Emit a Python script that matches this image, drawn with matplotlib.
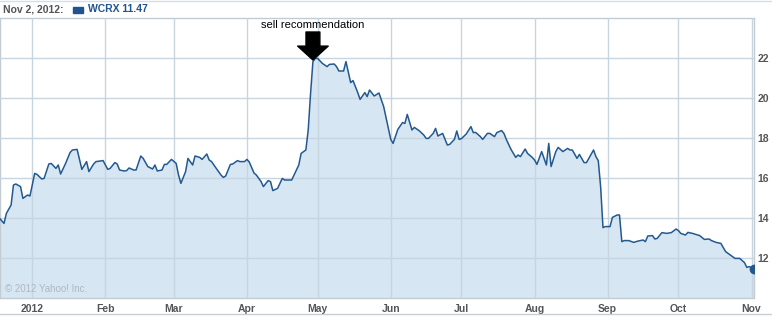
import matplotlib
matplotlib.use("Agg")
import matplotlib.pyplot as plt
from matplotlib.patches import Rectangle
from matplotlib.lines import Line2D
import pandas as pd

# ------------------------------------------------------------------
# Data
# ------------------------------------------------------------------
dates = [
    "2011-12-18", "2011-12-20", "2011-12-21", "2011-12-23", "2011-12-24",
    "2011-12-25", "2011-12-27", "2011-12-28", "2011-12-30", "2011-12-31",
    "2012-01-02", "2012-01-03", "2012-01-05", "2012-01-06", "2012-01-08",
    "2012-01-09", "2012-01-11", "2012-01-12", "2012-01-13", "2012-01-15",
    "2012-01-17", "2012-01-18", "2012-01-20", "2012-01-22", "2012-01-24",
    "2012-01-25", "2012-01-27", "2012-01-28", "2012-01-31", "2012-02-02",
    "2012-02-03", "2012-02-05", "2012-02-06", "2012-02-07", "2012-02-09",
    "2012-02-10", "2012-02-11", "2012-02-13", "2012-02-14", "2012-02-16",
    "2012-02-17", "2012-02-19", "2012-02-21", "2012-02-22", "2012-02-23",
    "2012-02-25", "2012-02-26", "2012-02-27", "2012-02-29", "2012-03-02",
    "2012-03-03", "2012-03-04", "2012-03-06", "2012-03-07", "2012-03-09",
    "2012-03-10", "2012-03-12", "2012-03-13", "2012-03-15", "2012-03-16",
    "2012-03-17", "2012-03-19", "2012-03-21", "2012-03-22", "2012-03-23",
    "2012-03-25", "2012-03-26", "2012-03-28", "2012-03-29", "2012-03-31",
    "2012-04-01", "2012-04-02", "2012-04-04", "2012-04-05", "2012-04-07",
    "2012-04-08", "2012-04-10", "2012-04-11", "2012-04-12", "2012-04-14",
    "2012-04-16", "2012-04-17", "2012-04-20", "2012-04-21", "2012-04-23",
    "2012-04-24", "2012-04-26", "2012-04-27", "2012-04-28", "2012-04-29",
    "2012-04-30", "2012-05-01", "2012-05-03", "2012-05-05", "2012-05-06",
    "2012-05-08", "2012-05-09", "2012-05-10", "2012-05-12", "2012-05-13",
    "2012-05-15", "2012-05-16", "2012-05-18", "2012-05-19", "2012-05-21",
    "2012-05-22", "2012-05-23", "2012-05-25", "2012-05-27", "2012-05-29",
    "2012-05-31", "2012-06-01", "2012-06-02", "2012-06-04", "2012-06-06",
    "2012-06-07", "2012-06-08", "2012-06-10", "2012-06-11", "2012-06-13",
    "2012-06-15", "2012-06-16", "2012-06-17", "2012-06-19", "2012-06-20",
    "2012-06-21", "2012-06-23", "2012-06-25", "2012-06-26", "2012-06-28",
    "2012-06-29", "2012-06-30", "2012-07-01", "2012-07-03", "2012-07-05",
    "2012-07-06", "2012-07-07", "2012-07-09", "2012-07-10", "2012-07-12",
    "2012-07-13", "2012-07-15", "2012-07-16", "2012-07-18", "2012-07-19",
    "2012-07-20", "2012-07-22", "2012-07-24", "2012-07-25", "2012-07-26",
    "2012-07-28", "2012-07-29", "2012-07-31", "2012-08-01", "2012-08-02",
    "2012-08-04", "2012-08-06", "2012-08-07", "2012-08-08", "2012-08-10",
    "2012-08-11", "2012-08-13", "2012-08-15", "2012-08-16", "2012-08-17",
    "2012-08-19", "2012-08-20", "2012-08-22", "2012-08-23", "2012-08-26",
    "2012-08-27", "2012-08-28", "2012-08-29", "2012-08-30", "2012-08-31",
    "2012-09-02", "2012-09-03", "2012-09-05", "2012-09-06", "2012-09-07",
    "2012-09-08", "2012-09-10", "2012-09-12", "2012-09-14", "2012-09-16",
    "2012-09-17", "2012-09-18", "2012-09-20", "2012-09-21", "2012-09-22",
    "2012-09-24", "2012-09-26", "2012-09-28", "2012-09-30", "2012-10-01",
    "2012-10-02", "2012-10-04", "2012-10-05", "2012-10-07", "2012-10-10",
    "2012-10-12", "2012-10-14", "2012-10-15", "2012-10-17", "2012-10-19",
    "2012-10-21", "2012-10-23", "2012-10-25", "2012-10-27", "2012-10-29",
    "2012-10-30", "2012-10-31", "2012-11-02",
]

prices = [
    14.00, 13.73, 14.23, 14.65, 15.65,
    15.70, 15.57, 14.98, 15.15, 15.10,
    16.23, 16.18, 15.95, 15.98, 16.70,
    16.73, 16.48, 16.65, 16.20, 16.70,
    17.27, 17.40, 17.43, 16.43, 16.82,
    16.32, 16.70, 16.82, 16.87, 16.43,
    16.48, 16.77, 16.70, 16.40, 16.35,
    16.37, 16.50, 16.40, 16.40, 17.10,
    16.98, 16.57, 16.45, 16.65, 16.35,
    16.40, 16.68, 16.68, 16.93, 16.73,
    16.15, 15.73, 16.32, 16.98, 16.65,
    17.10, 17.03, 16.93, 17.20, 16.90,
    16.82, 16.48, 16.15, 16.03, 16.10,
    16.68, 16.70, 16.87, 16.82, 16.82,
    16.93, 16.80, 16.25, 16.15, 15.82,
    15.57, 15.87, 15.82, 15.37, 15.48,
    15.98, 15.90, 15.90, 16.15, 16.65,
    17.23, 17.40, 18.40, 20.23, 21.82,
    21.98, 21.98, 21.73, 21.57, 21.68,
    21.70, 21.57, 21.35, 21.35, 21.82,
    20.77, 20.87, 20.27, 19.93, 20.27,
    20.07, 20.40, 20.10, 20.25, 19.57,
    18.48, 17.93, 17.73, 18.43, 18.77,
    18.73, 19.18, 18.40, 18.53, 18.37,
    18.15, 17.98, 17.98, 18.23, 18.48,
    18.10, 18.23, 17.65, 17.68, 17.93,
    18.35, 17.93, 17.97, 18.20, 18.57,
    18.27, 18.28, 18.07, 17.93, 18.23,
    18.23, 18.07, 18.27, 18.37, 18.23,
    17.93, 17.43, 17.03, 17.15, 17.07,
    17.45, 17.23, 17.03, 16.90, 16.68,
    17.32, 16.65, 17.73, 16.57, 17.32,
    17.53, 17.32, 17.48, 17.40, 17.40,
    16.98, 17.18, 16.77, 16.77, 17.40,
    17.07, 16.87, 15.57, 13.52, 13.57,
    13.57, 14.03, 14.15, 14.15, 12.82,
    12.87, 12.87, 12.78, 12.85, 12.90,
    12.82, 13.10, 13.12, 12.95, 12.98,
    13.27, 13.23, 13.27, 13.45, 13.37,
    13.23, 13.15, 13.28, 13.23, 13.12,
    12.93, 12.95, 12.87, 12.78, 12.73,
    12.32, 12.15, 11.98, 11.98, 11.77,
    11.53, 11.57, 11.47,
]

month_ticks = ["2012-01-01", "2012-02-01", "2012-03-01", "2012-04-01",
               "2012-05-01", "2012-06-01", "2012-07-01", "2012-08-01",
               "2012-09-01", "2012-10-01", "2012-11-01"]
month_labels = ["2012", "Feb", "Mar", "Apr", "May", "Jun", "Jul", "Aug",
                "Sep", "Oct", "Nov"]
price_ticks = [12, 14, 16, 18, 20, 22]

header_date = "Nov 2, 2012:"
header_symbol = "WCRX 11.47"
note_text = "sell recommendation"
note_date = "2012-04-29"
note_price = 21.9
copyright_text = "\u00a9 2012 Yahoo! Inc."

# ------------------------------------------------------------------
# Styling
# ------------------------------------------------------------------
LINE = "#23598f"
FILL = "#d6e6f2"
GRID = "#c7d5e0"
BORDER = "#c3cbd3"
LABEL = "#555555"
BLUE = "#1f5391"
FONT = "Liberation Sans"

W, H = 772, 316
fig = plt.figure(figsize=(W / 100, H / 100), dpi=100)
fig.patch.set_facecolor("white")

# plot area in pixel coords: x 0..753.5, y 18..298 (from top)
ax = fig.add_axes([0.0, (H - 298) / H, 753.5 / W, 280 / H])

x = pd.to_datetime(dates)
ax.fill_between(x, prices, 10, color=FILL, linewidth=0, zorder=1)
ax.plot(x, prices, color=LINE, linewidth=1.1, zorder=3)
ax.plot(x[-1:], prices[-1:], "o", color=LINE, markersize=6, zorder=4)

ax.set_xlim(pd.Timestamp("2011-12-18 07:00"), pd.Timestamp("2012-11-01 20:00"))
ax.set_ylim(10, 24)

ax.set_xticks(pd.to_datetime(month_ticks))
ax.set_xticklabels(month_labels)
ax.set_yticks(price_ticks)
ax.set_yticklabels([str(v) for v in price_ticks])
ax.yaxis.tick_right()
ax.tick_params(axis="both", length=0, colors=LABEL, labelsize=7.5)
ax.tick_params(axis="x", pad=4)
ax.tick_params(axis="y", pad=3)
for lbl in ax.get_xticklabels() + ax.get_yticklabels():
    lbl.set_fontweight("bold")
    lbl.set_family(FONT)

ax.grid(True, color=GRID, linewidth=1.0, zorder=2)
ax.set_axisbelow(False)
for side in ["left", "right", "top", "bottom"]:
    ax.spines[side].set_color(BORDER)
    ax.spines[side].set_linewidth(1.0)

# copyright text
ax.text(0.006, 0.02, copyright_text, transform=ax.transAxes,
        fontsize=7, color="#b0b8c0", family=FONT, zorder=5)

# sell recommendation arrow + label
tip = pd.Timestamp(note_date)
ax.annotate("", xy=(tip, note_price), xytext=(tip, 23.3),
            arrowprops=dict(facecolor="black", edgecolor="black",
                            width=10, headwidth=22, headlength=10),
            annotation_clip=False, zorder=6)
ax.text(tip, 23.65, note_text, ha="center", va="center", fontsize=8,
        family=FONT, color="black", zorder=6)

# header
fig.text(3 / W, 1 - 9.5 / H, header_date, fontsize=7.5, fontweight="bold",
         color=LABEL, va="center", ha="left", family=FONT)
fig.patches.append(Rectangle((73 / W, 1 - 12.5 / H), 10 / W, 6 / H,
                             transform=fig.transFigure, color=BLUE))
fig.text(88 / W, 1 - 9.5 / H, header_symbol, fontsize=7.5, fontweight="bold",
         color=BLUE, va="center", ha="left", family=FONT)

# thin frame lines at top and bottom of the widget
fig.lines.append(Line2D([0, 1], [1 - 0.5 / H, 1 - 0.5 / H],
                        transform=fig.transFigure, color="#d8dde2", linewidth=1))
fig.lines.append(Line2D([0, 1], [2 / H, 2 / H],
                        transform=fig.transFigure, color="#c9ced3", linewidth=1))

fig.savefig("out.png", dpi=100)
